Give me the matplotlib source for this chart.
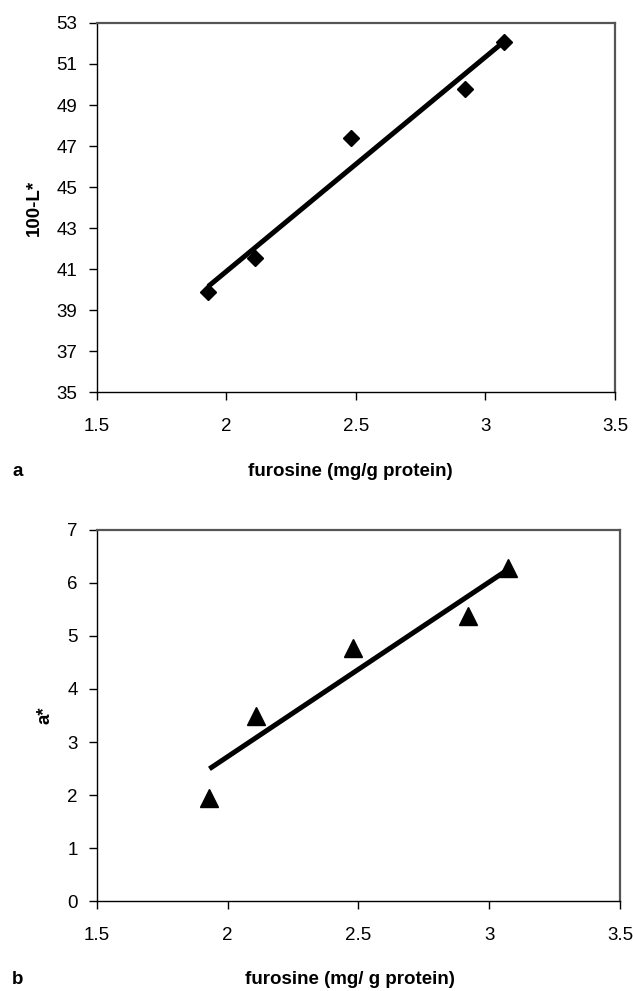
import numpy as np
import matplotlib
matplotlib.use("Agg")
import matplotlib.pyplot as plt

plt.rcParams["font.family"] = ["Liberation Sans", "DejaVu Sans"]

# datos
furosine = [1.93, 2.11, 2.48, 2.92, 3.07]
lightness = [39.9, 41.55, 47.38, 49.8, 52.06]   # 100-L*
redness = [1.95, 3.5, 4.78, 5.38, 6.28]          # a*

x_ticks = [1.5, 2, 2.5, 3, 3.5]
x_tick_labels = ["1.5", "2", "2.5", "3", "3.5"]
y_ticks_a = [35, 37, 39, 41, 43, 45, 47, 49, 51, 53]
y_ticks_b = [0, 1, 2, 3, 4, 5, 6, 7]

FS = 13.5

fig = plt.figure(figsize=(6.33, 9.91), dpi=100)
ax1 = fig.add_axes([0.1532, 0.6044, 0.8183, 0.3724])
ax2 = fig.add_axes([0.1532, 0.0908, 0.8262, 0.3744])


def panel(ax, y, marker, ms, yticks, ylabel):
    x = np.array(furosine)
    yv = np.array(y)
    m, b = np.polyfit(x, yv, 1)
    xl = np.array([x.min(), x.max()])
    ax.plot(xl, m * xl + b, color="black", lw=3.6, solid_capstyle="butt", zorder=2)
    ax.plot(x, yv, linestyle="none", marker=marker, ms=ms, color="black", zorder=3)
    ax.set_xlim(1.5, 3.5)
    ax.set_ylim(yticks[0], yticks[-1])
    ax.set_xticks(x_ticks)
    ax.set_xticklabels(x_tick_labels)
    ax.set_yticks(yticks)
    ax.tick_params(axis="both", direction="out", length=6, width=1, labelsize=FS)
    ax.tick_params(axis="x", pad=13)
    ax.tick_params(axis="y", pad=8)
    for s in ["left", "bottom"]:
        ax.spines[s].set_color("black")
        ax.spines[s].set_linewidth(1)
    for s in ["top", "right"]:
        ax.spines[s].set_color("#555555")
        ax.spines[s].set_linewidth(1.6)
    ax.set_ylabel(ylabel, fontsize=FS, fontweight="bold", labelpad=10)


panel(ax1, lightness, "D", 8, y_ticks_a, "100-L*")
panel(ax2, redness, "^", 12.5, y_ticks_b, "a*")

# etiquetas inferiores
fig.text(18 / 633, 1 - 472 / 991, "a", fontsize=FS, fontweight="bold", ha="center", va="center")
fig.text(350 / 633, 1 - 472 / 991, "furosine (mg/g protein)", fontsize=FS, fontweight="bold",
         ha="center", va="center")
fig.text(18 / 633, 1 - 980 / 991, "b", fontsize=FS, fontweight="bold", ha="center", va="center")
fig.text(350 / 633, 1 - 980 / 991, "furosine (mg/ g protein)", fontsize=FS, fontweight="bold",
         ha="center", va="center")

fig.savefig("out.png", dpi=100)
